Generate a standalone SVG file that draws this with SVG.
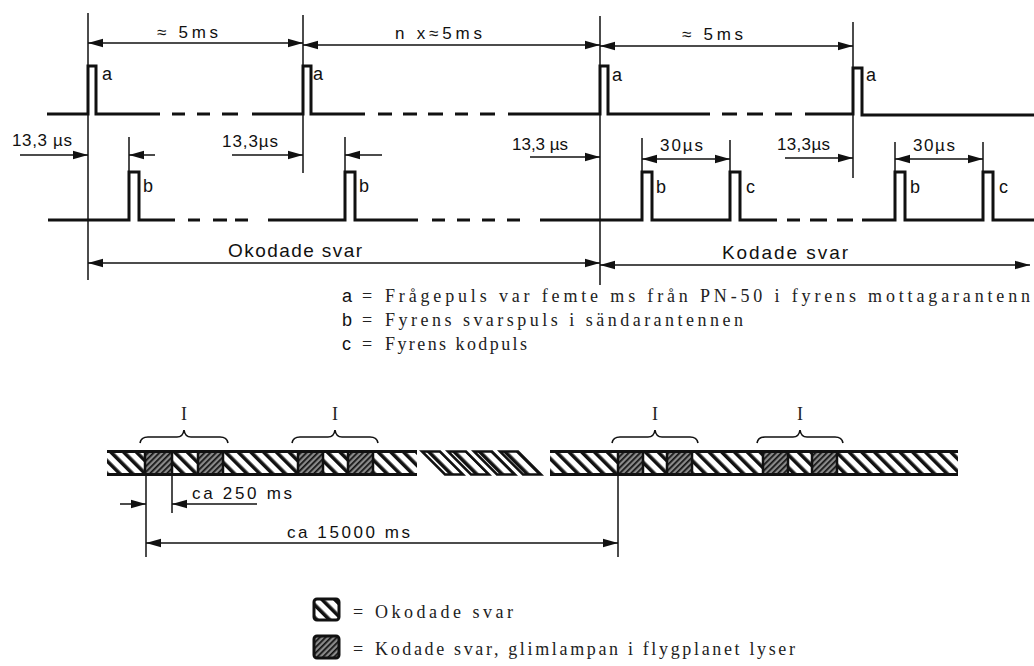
<svg xmlns="http://www.w3.org/2000/svg" width="1034" height="666" viewBox="0 0 1034 666">
<defs>
<style>
.wave{fill:none;stroke:#111;stroke-width:3;stroke-linejoin:miter;stroke-linecap:butt}
.ext{fill:none;stroke:#111;stroke-width:1.5}
.dim{fill:none;stroke:#111;stroke-width:1.5;marker-end:url(#ah)}
.dim2{fill:none;stroke:#111;stroke-width:1.5;marker-start:url(#ah);marker-end:url(#ah)}
.lbl{font-family:"Liberation Sans","DejaVu Sans",sans-serif;font-size:17px;fill:#111}
.sm{font-family:"Liberation Sans","DejaVu Sans",sans-serif;font-size:18px;fill:#111}
.big{font-family:"Liberation Sans","DejaVu Sans",sans-serif;font-size:19px;fill:#111}
.ser{font-family:"Liberation Serif","DejaVu Serif",serif;font-size:18px;fill:#222}
.brace{fill:none;stroke:#111;stroke-width:1.6}
.sep{stroke:#111;stroke-width:2.5}
.edge{stroke:#111;stroke-width:3}
</style>
<marker id="ah" markerUnits="userSpaceOnUse" markerWidth="16" markerHeight="10" refX="15" refY="5" orient="auto-start-reverse">
<path d="M0,0.8 L15,5 L0,9.2 Z" fill="#111"/>
</marker>
<pattern id="unc" patternUnits="userSpaceOnUse" width="9" height="9" patternTransform="rotate(-45)">
<rect width="9" height="9" fill="#fff"/>
<rect x="0" y="0" width="3.6" height="9" fill="#111"/>
</pattern>
<pattern id="cod" patternUnits="userSpaceOnUse" width="4" height="4" patternTransform="rotate(45)">
<rect width="4" height="4" fill="#8a8a8a"/>
<rect x="0" y="0" width="1.7" height="4" fill="#111"/>
</pattern>
</defs>
<rect width="1034" height="666" fill="#fff"/>

<g id="connectors">
<line class="ext" x1="88" y1="13" x2="88" y2="280"/>
<line class="ext" x1="303" y1="15" x2="303" y2="173"/>
<line class="ext" x1="600" y1="16" x2="600" y2="285"/>
<line class="ext" x1="853" y1="22" x2="853" y2="178"/>
<line class="ext" x1="129" y1="137" x2="129" y2="172"/>
<line class="ext" x1="345" y1="137" x2="345" y2="172"/>
<line class="ext" x1="642" y1="138" x2="642" y2="172"/>
<line class="ext" x1="730" y1="140" x2="730" y2="172"/>
<line class="ext" x1="895" y1="142" x2="895" y2="172"/>
<line class="ext" x1="983" y1="142" x2="983" y2="172"/>
<line class="dim2" x1="88" y1="43" x2="303" y2="43"/>
<line class="dim2" x1="303" y1="45" x2="600" y2="45"/>
<line class="dim2" x1="600" y1="46" x2="853" y2="46"/>
<line class="dim" x1="20" y1="155" x2="88" y2="155"/>
<line class="dim" x1="155" y1="155" x2="129" y2="155"/>
<line class="dim" x1="232" y1="155" x2="303" y2="155"/>
<line class="dim" x1="382" y1="155" x2="345" y2="155"/>
<line class="dim" x1="530" y1="157" x2="600" y2="157"/>
<line class="dim" x1="785" y1="158" x2="853" y2="158"/>
<line class="dim2" x1="642" y1="159" x2="730" y2="159"/>
<line class="dim2" x1="895" y1="159" x2="983" y2="159"/>
<line class="dim2" x1="88" y1="263" x2="600" y2="263"/>
<line class="dim2" x1="600" y1="265" x2="1030" y2="265"/>
<line class="ext" x1="146" y1="476" x2="146" y2="557"/>
<line class="ext" x1="172" y1="476" x2="172" y2="513"/>
<line class="ext" x1="618" y1="476" x2="618" y2="557"/>
<line class="dim" x1="120" y1="504" x2="146" y2="504"/>
<line class="dim" x1="257" y1="504" x2="172" y2="504"/>
<line class="dim2" x1="146" y1="543" x2="618" y2="543"/>
</g>

<g id="wave-a">
<path class="wave" d="M47,114 H88 V66 H96 V114 H160 M172,114 H185 M197,114 H210 M222,114 H238 M252,114 H303 V66 H311 V114 H365 M378,114 H392 M403,114 H417 M428,114 H443 M455,114 H468 M480,114 H495 M508,114 H600 V66 H608 V114 H710 M722,114 H737 M747,114 H763 M775,114 H792 M805,114 H853 V68 H862 V115 H1034"/>
<text class="sm" x="102" y="80">a</text>
<text class="sm" x="313" y="80">a</text>
<text class="sm" x="612" y="81">a</text>
<text class="sm" x="866" y="81">a</text>
</g>

<g id="wave-b">
<path class="wave" d="M48,220 H129 V172 H139 V220 H175 M188,220 H200 M213,220 H227 M235,220 H248 M268,220 H345 V172 H355 V220 H418 M432,220 H445 M457,220 H470 M482,220 H495 M507,220 H520 M540,220 H642 V172 H652 V220 H730 V172 H740 V220 H777 M787,220 H800 M810,220 H827 M837,220 H853 M862,220 H895 V172 H905 V220 H983 V172 H993 V220 H1034"/>
<text class="sm" x="143" y="192">b</text>
<text class="sm" x="359" y="192">b</text>
<text class="sm" x="656" y="193">b</text>
<text class="sm" x="910" y="193">b</text>
<text class="sm" x="746" y="193">c</text>
<text class="sm" x="999" y="193">c</text>
</g>

<g id="dim-labels">
<text class="lbl" x="157" y="38" textLength="61" lengthAdjust="spacing">≈ 5ms</text>
<text class="lbl" x="395" y="39" textLength="87" lengthAdjust="spacing">n x≈5ms</text>
<text class="lbl" x="682" y="40" textLength="61" lengthAdjust="spacing">≈ 5ms</text>
<text class="lbl" x="12" y="146" textLength="60" lengthAdjust="spacing">13,3 µs</text>
<text class="lbl" x="222" y="147" textLength="56" lengthAdjust="spacing">13,3µs</text>
<text class="lbl" x="512" y="150" textLength="56" lengthAdjust="spacing">13,3 µs</text>
<text class="lbl" x="660" y="151" textLength="43" lengthAdjust="spacing">30µs</text>
<text class="lbl" x="777" y="150" textLength="53" lengthAdjust="spacing">13,3µs</text>
<text class="lbl" x="913" y="151" textLength="42" lengthAdjust="spacing">30µs</text>
<text class="big" x="228" y="257" textLength="134" lengthAdjust="spacing">Okodade  svar</text>
<text class="big" x="722" y="259" textLength="126" lengthAdjust="spacing">Kodade  svar</text>
</g>

<g id="legend-abc">
<text class="sm" x="342" y="302">a</text>
<text class="ser" x="362" y="302">=</text>
<text class="ser" x="385" y="302" textLength="645" lengthAdjust="spacing">Frågepuls var femte ms från PN-50 i fyrens mottagarantenn</text>
<text class="sm" x="342" y="326">b</text>
<text class="ser" x="362" y="326" fill="#888">=</text>
<text class="ser" x="385" y="326" textLength="358" lengthAdjust="spacing">Fyrens svarspuls i sändarantennen</text>
<text class="sm" x="342" y="350">c</text>
<text class="ser" x="362" y="350">=</text>
<text class="ser" x="385" y="350" textLength="142" lengthAdjust="spacing">Fyrens kodpuls</text>
</g>

<g id="bar">
<rect x="107" y="452" width="310" height="23" fill="url(#unc)"/>
<rect x="145" y="452" width="27" height="23" fill="url(#cod)"/>
<rect x="198" y="452" width="25" height="23" fill="url(#cod)"/>
<rect x="298" y="452" width="25" height="23" fill="url(#cod)"/>
<rect x="348" y="452" width="25" height="23" fill="url(#cod)"/>
<line class="edge" x1="107" y1="451.5" x2="417" y2="451.5"/>
<line class="edge" x1="107" y1="474.5" x2="417" y2="474.5"/>
<g class="sep">
<line x1="145" y1="452" x2="145" y2="475"/><line x1="172" y1="452" x2="172" y2="475"/>
<line x1="198" y1="452" x2="198" y2="475"/><line x1="223" y1="452" x2="223" y2="475"/>
<line x1="298" y1="452" x2="298" y2="475"/><line x1="323" y1="452" x2="323" y2="475"/>
<line x1="348" y1="452" x2="348" y2="475"/><line x1="373" y1="452" x2="373" y2="475"/>
</g>
<g fill="url(#unc)" stroke="#111" stroke-width="2.5" stroke-linejoin="miter">
<polygon points="422,451.5 440,451.5 463,474.5 445,474.5"/>
<polygon points="448,451.5 466,451.5 489,474.5 471,474.5"/>
<polygon points="474,451.5 492,451.5 515,474.5 497,474.5"/>
<polygon points="500,451.5 518,451.5 541,474.5 523,474.5"/>
</g>
<rect x="550" y="452" width="408" height="23" fill="url(#unc)"/>
<rect x="618" y="452" width="25" height="23" fill="url(#cod)"/>
<rect x="667" y="452" width="25" height="23" fill="url(#cod)"/>
<rect x="763" y="452" width="25" height="23" fill="url(#cod)"/>
<rect x="812" y="452" width="25" height="23" fill="url(#cod)"/>
<line class="edge" x1="550" y1="451.5" x2="958" y2="451.5"/>
<line class="edge" x1="550" y1="474.5" x2="958" y2="474.5"/>
<g class="sep">
<line x1="618" y1="452" x2="618" y2="475"/><line x1="643" y1="452" x2="643" y2="475"/>
<line x1="667" y1="452" x2="667" y2="475"/><line x1="692" y1="452" x2="692" y2="475"/>
<line x1="763" y1="452" x2="763" y2="475"/><line x1="788" y1="452" x2="788" y2="475"/>
<line x1="812" y1="452" x2="812" y2="475"/><line x1="837" y1="452" x2="837" y2="475"/>
</g>
</g>

<g id="braces">
<path class="brace" d="M140,443 Q141,437 148,437 H177 Q183,437 184,430 Q185,437 191,437 H220 Q227,437 228,443"/>
<path class="brace" d="M292,443 Q293,437 300,437 H328 Q334,437 335,430 Q336,437 342,437 H370 Q377,437 378,443"/>
<path class="brace" d="M612,443 Q613,437 620,437 H648 Q654,437 655,430 Q656,437 662,437 H690 Q697,437 698,443"/>
<path class="brace" d="M757,443 Q758,437 765,437 H793 Q799,437 800,430 Q801,437 807,437 H835 Q842,437 843,443"/>
<text class="ser" x="184" y="420" text-anchor="middle" font-size="16">I</text>
<text class="ser" x="335" y="420" text-anchor="middle" font-size="16">I</text>
<text class="ser" x="655" y="420" text-anchor="middle" font-size="16">I</text>
<text class="ser" x="800" y="420" text-anchor="middle" font-size="16">I</text>
</g>

<g id="bar-labels">
<text class="lbl" x="192" y="499" textLength="100" lengthAdjust="spacing">ca 250 ms</text>
<text class="lbl" x="287" y="538" textLength="123" lengthAdjust="spacing">ca  15000 ms</text>
</g>

<g id="legend-hatch">
<rect x="314" y="599" width="25" height="21" rx="3" fill="url(#unc)" stroke="#111" stroke-width="3"/>
<text class="ser" x="353" y="618" fill="#666">=</text>
<text class="ser" x="375" y="618" textLength="138" lengthAdjust="spacing">Okodade svar</text>
<rect x="314" y="636" width="25" height="22" rx="3" fill="url(#cod)" stroke="#111" stroke-width="3"/>
<text class="ser" x="353" y="655" fill="#666">=</text>
<text class="ser" x="375" y="655" textLength="420" lengthAdjust="spacing">Kodade svar,  glimlampan i flygplanet lyser</text>
</g>
</svg>
